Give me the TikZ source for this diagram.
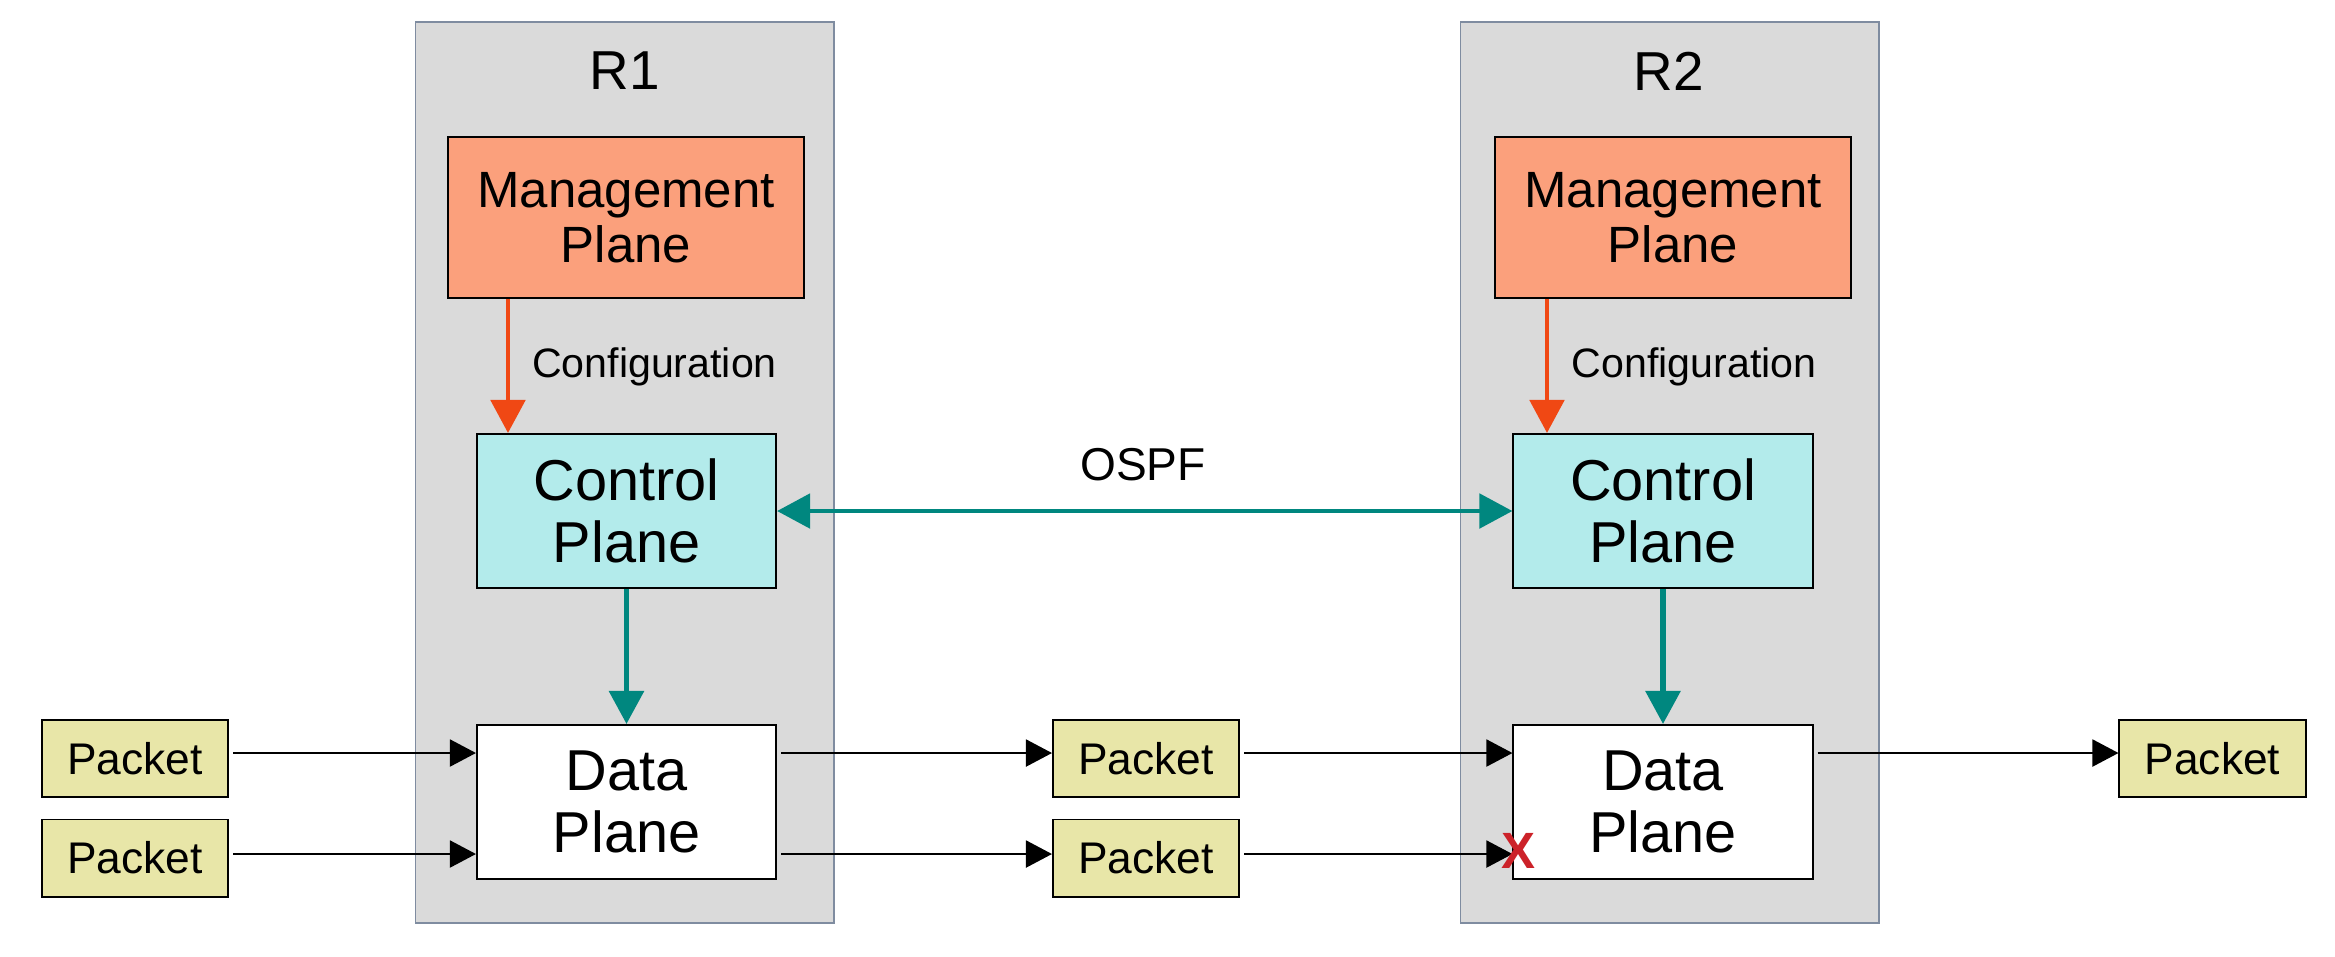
\documentclass[tikz,border=0pt]{standalone}
\usepackage{fontspec}
\setmainfont{Liberation Sans}
\usetikzlibrary{arrows.meta}
\definecolor{routerfill}{HTML}{DADADA}
\definecolor{routerline}{HTML}{7F8CA0}
\definecolor{mgmtfill}{HTML}{FBA07C}
\definecolor{ctrlfill}{HTML}{B3EBEB}
\definecolor{pktfill}{HTML}{E8E6A8}
\definecolor{tealarrow}{HTML}{00877F}
\definecolor{orangearrow}{HTML}{F04814}
\definecolor{dropred}{HTML}{CC2229}
\tikzset{
  router/.style={draw=routerline, line width=0.5pt, fill=routerfill,
    minimum width=4.18cm, minimum height=9.01cm, inner sep=0pt},
  plane/.style={draw=black, line width=0.55pt, align=center, inner sep=0pt},
  mgmtbox/.style={plane, fill=mgmtfill, minimum width=3.55cm, minimum height=1.61cm,
    font=\fontsize{14.5}{15.6}\selectfont},
  ctrlbox/.style={plane, fill=ctrlfill, minimum width=2.99cm, minimum height=1.54cm,
    font=\fontsize{16.4}{17.6}\selectfont},
  databox/.style={plane, fill=white, minimum width=2.99cm, minimum height=1.54cm,
    font=\fontsize{16.4}{17.6}\selectfont},
  pktbox/.style={plane, fill=pktfill, minimum width=1.86cm, minimum height=0.77cm,
    font=\fontsize{12.6}{13}\selectfont},
  rlabel/.style={font=\fontsize{15.6}{17}\selectfont, inner sep=0pt},
  cfglabel/.style={font=\fontsize{11.7}{13}\selectfont, inner sep=0pt},
  cfgarrow/.style={draw=orangearrow, line width=1.4pt,
    -{Triangle[length=9.4pt, width=9.7pt, fill=orangearrow]}},
  ctrlarrow/.style={draw=tealarrow, line width=1.6pt,
    -{Triangle[length=9.4pt, width=9.7pt, fill=tealarrow]}},
  ospfarrow/.style={draw=tealarrow, line width=1.4pt,
    {Triangle[length=9.4pt, width=9.7pt, fill=tealarrow]}-{Triangle[length=9.4pt, width=9.7pt, fill=tealarrow]}},
  flow/.style={draw=black, line width=0.5pt,
    -{Triangle[length=7.4pt, width=7.7pt]}},
}
\begin{document}
\begin{tikzpicture}[x=0.01cm, y=-0.01cm]
  \useasboundingbox (0,0) rectangle (2335,956);
  \fill[white] (0,0) rectangle (2335,956);

  % router enclosures
  \node[router] (R1box) at (624.5,472.5) {};
  \node[router] (R2box) at (1669.5,472.5) {};
  \node[rlabel] (R1name) at (625,71) {R1};
  \node[rlabel] (R2name) at (1669,71) {R2};

  % planes of R1
  \node[mgmtbox] (m1) at (626,217.5) {Management\\Plane};
  \node[ctrlbox] (k1) at (626.5,511) {Control\\Plane};
  \node[databox] (d1) at (626.5,802) {Data\\Plane};

  % planes of R2
  \node[mgmtbox] (m2) at (1673,217.5) {Management\\Plane};
  \node[ctrlbox] (k2) at (1663,511) {Control\\Plane};
  \node[databox] (d2) at (1663,802) {Data\\Plane};

  % packets
  \node[pktbox] (pa) at (135,758.5) {Packet};
  \node[pktbox] (pb) at (135,858) {Packet};
  \node[pktbox] (pc) at (1146,758.5) {Packet};
  \node[pktbox] (pd) at (1146,858) {Packet};
  \node[pktbox] (pe) at (2212.5,758.5) {Packet};

  % configuration arrows
  \coordinate (cx1) at (508,0);
  \coordinate (cx2) at (1547,0);
  \draw[cfgarrow] (m1.south -| cx1) -- (k1.north -| cx1);
  \draw[cfgarrow] (m2.south -| cx2) -- (k2.north -| cx2);
  \node[cfglabel] (cfg1) at (654.5,367) {Configuration};
  \node[cfglabel] (cfg2) at (1694,367) {Configuration};

  % control plane to data plane
  \draw[ctrlarrow] (k1.south) -- (d1.north);
  \draw[ctrlarrow] (k2.south) -- (d2.north);

  % routing protocol exchange
  \draw[ospfarrow] (k1.east) -- (k2.west);
  \node[font=\fontsize{13.1}{15}\selectfont, inner sep=0pt] (ospf) at (1143,465) {OSPF};

  % packet forwarding paths
  \coordinate (rowa) at (0,753);
  \coordinate (rowb) at (0,854);
  \draw[flow] ([xshift=0.04cm]pa.east |- rowa) -- (d1.west |- rowa);
  \draw[flow] ([xshift=0.04cm]pb.east |- rowb) -- (d1.west |- rowb);
  \draw[flow] ([xshift=0.04cm]d1.east |- rowa) -- (pc.west |- rowa);
  \draw[flow] ([xshift=0.04cm]d1.east |- rowb) -- (pd.west |- rowb);
  \draw[flow] ([xshift=0.04cm]pc.east |- rowa) -- (d2.west |- rowa);
  \draw[flow] ([xshift=0.04cm]pd.east |- rowb) -- (d2.west |- rowb);
  \draw[flow] ([xshift=0.04cm]d2.east |- rowa) -- (pe.west |- rowa);

  % dropped packet mark
  \node[text=dropred, font=\bfseries\fontsize{14.5}{15}\selectfont, inner sep=0pt] (drop) at (1518,851) {X};
\end{tikzpicture}
\end{document}
